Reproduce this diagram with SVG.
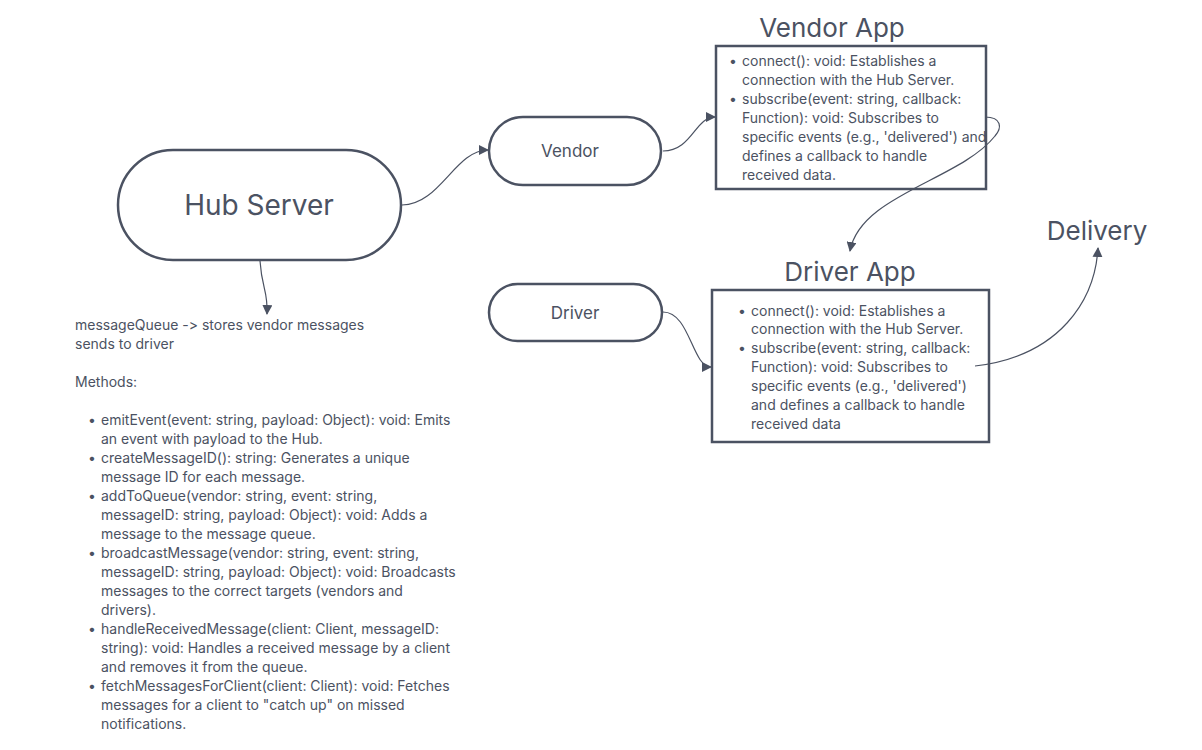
<svg xmlns="http://www.w3.org/2000/svg" width="1202" height="750" viewBox="0 0 1202 750">
<defs>
<marker id="arr" viewBox="0 0 10 10" refX="9" refY="5" markerWidth="10" markerHeight="10" markerUnits="userSpaceOnUse" orient="auto">
<path d="M0,0 L10,5 L0,10 z" fill="#4b5262"/>
</marker>
<style>
text{font-family:Inter,"Noto Sans","Liberation Sans",sans-serif;fill:#4b5262;font-feature-settings:"calt" 0,"liga" 0;font-variant-ligatures:none}
.shape{fill:#fff;stroke:#4b5262;stroke-width:2.5}
.box{fill:none;stroke:#4b5262;stroke-width:2.5}
.conn{fill:none;stroke:#4b5262;stroke-width:1.2;marker-end:url(#arr)}
.t{font-size:14px}
.title{font-size:26px}
</style>
</defs>
<rect width="1202" height="750" fill="#fff"/>
<g id="connectors">
<path class="conn" d="M402,205 C440,205 455,150 488,150"/>
<path class="conn" d="M663,151 C692,151 695,117 715,117"/>
<path class="conn" d="M260,261 C262,290 268,290 267,314"/>
<path class="conn" d="M985,117 C1002,117 1002,128 995,136 C960,180 860,195 850,251"/>
<path class="conn" d="M663,312 C690,312 692,367 711,367"/>
<path class="conn" d="M975,366 C1060,356 1095,300 1098,248"/>
</g>
<g id="hub">
<rect class="shape" x="118" y="150" width="283" height="110" rx="55"/>
<text x="259" y="215" font-size="28" text-anchor="middle">Hub Server</text>
</g>
<g id="hub-notes">
<text class="t" x="75" y="330">messageQueue -&gt; stores vendor messages</text>
<text class="t" x="75" y="349">sends to driver</text>
<text class="t" x="75" y="387">Methods:</text>
<text class="t" x="88" y="425">•</text>
<text class="t" x="101" y="425">emitEvent(event: string, payload: Object): void: Emits</text>
<text class="t" x="101" y="444">an event with payload to the Hub.</text>
<text class="t" x="88" y="463">•</text>
<text class="t" x="101" y="463">createMessageID(): string: Generates a unique</text>
<text class="t" x="101" y="482">message ID for each message.</text>
<text class="t" x="88" y="501">•</text>
<text class="t" x="101" y="501">addToQueue(vendor: string, event: string,</text>
<text class="t" x="101" y="520">messageID: string, payload: Object): void: Adds a</text>
<text class="t" x="101" y="539">message to the message queue.</text>
<text class="t" x="88" y="558">•</text>
<text class="t" x="101" y="558">broadcastMessage(vendor: string, event: string,</text>
<text class="t" x="101" y="577">messageID: string, payload: Object): void: Broadcasts</text>
<text class="t" x="101" y="596">messages to the correct targets (vendors and</text>
<text class="t" x="101" y="615">drivers).</text>
<text class="t" x="88" y="634">•</text>
<text class="t" x="101" y="634">handleReceivedMessage(client: Client, messageID:</text>
<text class="t" x="101" y="653">string): void: Handles a received message by a client</text>
<text class="t" x="101" y="672">and removes it from the queue.</text>
<text class="t" x="88" y="691">•</text>
<text class="t" x="101" y="691">fetchMessagesForClient(client: Client): void: Fetches</text>
<text class="t" x="101" y="710">messages for a client to "catch up" on missed</text>
<text class="t" x="101" y="729">notifications.</text>
</g>
<g id="vendor">
<rect class="shape" x="489" y="117" width="172" height="68" rx="34"/>
<text x="570" y="157" font-size="17" text-anchor="middle">Vendor</text>
</g>
<g id="driver">
<rect class="shape" x="489" y="284" width="173" height="57" rx="28.5"/>
<text x="575" y="319" font-size="17" text-anchor="middle">Driver</text>
</g>
<g id="vendor-app">
<text class="title" x="832" y="37" text-anchor="middle">Vendor App</text>
<rect class="box" x="716" y="46" width="270" height="143"/>
<text class="t" x="729" y="66">•</text>
<text class="t" x="742" y="66">connect(): void: Establishes a</text>
<text class="t" x="742" y="85">connection with the Hub Server.</text>
<text class="t" x="729" y="104">•</text>
<text class="t" x="742" y="104">subscribe(event: string, callback:</text>
<text class="t" x="742" y="123">Function): void: Subscribes to</text>
<text class="t" x="742" y="142">specific events (e.g., 'delivered') and</text>
<text class="t" x="742" y="161">defines a callback to handle</text>
<text class="t" x="742" y="180">received data.</text>
</g>
<g id="driver-app">
<text class="title" x="850" y="281" text-anchor="middle">Driver App</text>
<rect class="box" x="712" y="290" width="277" height="152"/>
<text class="t" x="738" y="316">•</text>
<text class="t" x="751" y="316">connect(): void: Establishes a</text>
<text class="t" x="751" y="334">connection with the Hub Server.</text>
<text class="t" x="738" y="353">•</text>
<text class="t" x="751" y="353">subscribe(event: string, callback:</text>
<text class="t" x="751" y="372">Function): void: Subscribes to</text>
<text class="t" x="751" y="391">specific events (e.g., 'delivered')</text>
<text class="t" x="751" y="410">and defines a callback to handle</text>
<text class="t" x="751" y="429">received data</text>
</g>
<g id="delivery">
<text class="title" x="1097" y="240" text-anchor="middle">Delivery</text>
</g>
</svg>
